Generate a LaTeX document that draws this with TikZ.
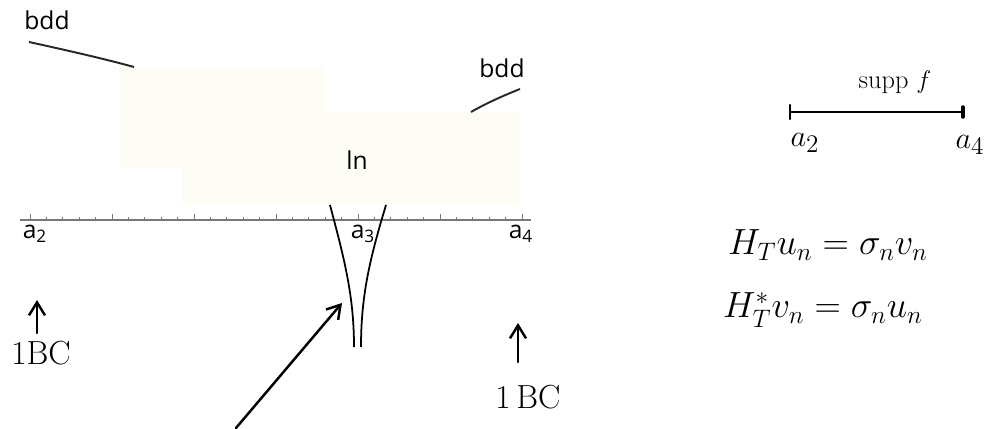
\documentclass[tikz,border=0pt]{standalone}
\usepackage{amsmath}
\usepackage{fontspec}
\newfontfamily\plotfont{Open Sans}
\usetikzlibrary{positioning}
\usetikzlibrary{arrows.meta}
\definecolor{boxfill}{RGB}{253,253,245}
\definecolor{axisgray}{RGB}{120,120,120}
\tikzset{
  plotlabel/.style={font=\plotfont\fontsize{14}{16}\selectfont, inner sep=1pt},
  handtext/.style={font=\fontsize{19}{22}\selectfont, inner sep=0pt},
  hand/.style={line width=1.4pt, line cap=round},
  handarrow/.style={hand, -{Straight Barb[length=2.6mm, width=3.2mm]}},
  leader/.style={line width=1.1pt, black!85}
}

\begin{document}
\begin{tikzpicture}[x=0.02cm, y=-0.02cm]
    \useasboundingbox (0,0) rectangle (984,429);

    % region where the function lives
    \fill[boxfill] (119,67) rectangle (323,168);
    \fill[boxfill] (182,112) rectangle (520,205);

    % axis with ticks
    \draw[axisgray, line width=0.6pt] (20,220) -- (531,220);
    \foreach \i in {0,...,30}
        \draw[axisgray, line width=0.5pt] (30+16.4*\i,220) -- ++(0,-3);
    \foreach \i in {0,...,6}
        \draw[axisgray, line width=0.5pt] (30+82*\i,220) -- ++(0,-6);
    \node[plotlabel, anchor=north] (atwo) at (35,223) {a\textsubscript{2}};
    \node[plotlabel, anchor=north] (athree) at (363,223) {a\textsubscript{3}};
    \node[plotlabel, anchor=north] (afour) at (521,223) {a\textsubscript{4}};

    % labels on the plot
    \node[plotlabel] (bddl) at (47,20) {bdd};
    \node[plotlabel] (bddr) at (502,68) {bdd};
    \node[plotlabel] (ln) at (357,160) {ln};
    \coordinate (bddlend) at (29,42);
    \coordinate (bddltip) at (134,67);
    \coordinate (bddrend) at (520,89);
    \coordinate (bddrtip) at (471,112);
    \draw[leader] (bddlend) .. controls (70,51) and (105,59) .. (bddltip);
    \draw[leader] (bddrend) .. controls (500,97) and (485,104) .. (bddrtip);

    % log singularity at a3
    \draw[line width=1pt] (330,205) .. controls (344,258) and (354,295) .. (354,347);
    \draw[line width=1pt] (386,205) .. controls (370,258) and (361,295) .. (361,347);

    % handwritten notes
    \coordinate (bigtail) at (236,428);
    \coordinate (bigtip) at (342,303);
    \draw[handarrow] (bigtail) -- (bigtip);

    \node[handtext] (bcl) at (41,353) {1BC};
    \coordinate (bcltip) at (37,300);
    \coordinate (bclbase) at (37,333);
    \draw[handarrow] (bclbase) -- (bcltip);

    \node[handtext] (bcr) at (528,397) {1\,BC};
    \coordinate (bcrtip) at (518,323);
    \coordinate (bcrbase) at (518,362);
    \draw[handarrow] (bcrbase) -- (bcrtip);

    % support of f
    \node[handtext, font=\fontsize{15}{18}\selectfont] (supp) at (895,82) {supp $f$};
    \coordinate (suppl) at (790,112);
    \coordinate (suppr) at (963,112);
    \draw[hand, line width=1.2pt] (suppl) -- (suppr);
    \draw[hand, line width=1.2pt] (suppl) ++(0,-7) -- ++(0,14);
    \draw[hand, line width=2pt] (suppr) ++(0,-5) -- ++(0,10);
    \node[handtext] (sa) at (805,143) {$a_2$};
    \node[handtext] (sb) at (970,145) {$a_4$};

    % singular value relations
    \node[handtext, font=\fontsize{22}{26}\selectfont] (eqone) at (828,245) {$H_T u_n = \sigma_n v_n$};
    \node[handtext, font=\fontsize{22}{26}\selectfont] (eqtwo) at (823,310) {$H_T^{*} v_n = \sigma_n u_n$};
\end{tikzpicture}
\end{document}
